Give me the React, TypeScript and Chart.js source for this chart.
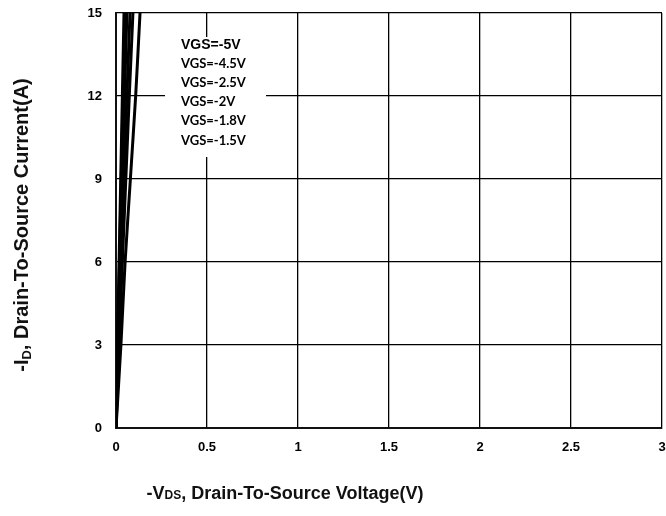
import React, { useEffect, useRef } from "react";
import { Chart, registerables } from "chart.js";

Chart.register(...registerables);

// Drain current levels (A)
const currents = [0, 3, 6, 9, 12, 15];
// -VDS (V) for each gate voltage at the current levels above
const vdsVgs5 = [0, 0.008, 0.017, 0.026, 0.035, 0.044];
const vdsVgs45 = [0, 0.009, 0.019, 0.029, 0.039, 0.05];
const vdsVgs25 = [0, 0.011, 0.023, 0.035, 0.047, 0.06];
const vdsVgs2 = [0, 0.014, 0.029, 0.044, 0.06, 0.077];
const vdsVgs18 = [0, 0.017, 0.035, 0.054, 0.073, 0.093];
const vdsVgs15 = [0, 0.027, 0.05, 0.079, 0.108, 0.132];

const seriesLabels = ["VGS=-5V", "VGS=-4.5V", "VGS=-2.5V", "VGS=-2V", "VGS=-1.8V", "VGS=-1.5V"];
const seriesValues = [vdsVgs5, vdsVgs45, vdsVgs25, vdsVgs2, vdsVgs18, vdsVgs15];

const xTicks = [0, 0.5, 1, 1.5, 2, 2.5, 3];
const yTicks = [0, 3, 6, 9, 12, 15];

const legendPlugin = {
  id: "boxLegend",
  afterDatasetsDraw(chart: any) {
    const { ctx, chartArea } = chart;
    const bx = chartArea.left + 49;
    const by = chartArea.top + 24;
    ctx.save();
    ctx.fillStyle = "#fff";
    ctx.fillRect(bx, by, 101, 120);
    ctx.fillStyle = "#000";
    ctx.textBaseline = "middle";
    ctx.textAlign = "left";
    const offs = [8, 27, 46, 65, 84, 104];
    chart.data.datasets.forEach((ds: any, i: number) => {
      ctx.font = i === 0 ? "bold 14px 'Liberation Sans', Arial, sans-serif" : "bold 13px Lato, sans-serif";
      ctx.fillText(ds.label, bx + 16, by + offs[i]);
    });
    ctx.restore();
  },
};

function drawMixed(ctx: any, parts: { t: string; size: number; dy: number }[], cx: number, cy: number) {
  let total = 0;
  for (const p of parts) {
    ctx.font = `bold ${p.size}px 'Liberation Sans', Arial, sans-serif`;
    total += ctx.measureText(p.t).width;
  }
  let x = cx - total / 2;
  for (const p of parts) {
    ctx.font = `bold ${p.size}px 'Liberation Sans', Arial, sans-serif`;
    ctx.fillText(p.t, x, cy + p.dy);
    x += ctx.measureText(p.t).width;
  }
}

const titlePlugin = {
  id: "axisTitles",
  afterDraw(chart: any) {
    const { ctx } = chart;
    ctx.save();
    ctx.fillStyle = "#111";
    ctx.textBaseline = "alphabetic";
    ctx.textAlign = "left";
    drawMixed(
      ctx,
      [
        { t: "-V", size: 18, dy: 0 },
        { t: "DS", size: 12, dy: 0 },
        { t: ", Drain-To-Source Voltage(V)", size: 18, dy: 0 },
      ],
      285,
      499
    );
    ctx.translate(28, 225);
    ctx.rotate(-Math.PI / 2);
    drawMixed(
      ctx,
      [
        { t: "-I", size: 20, dy: 0 },
        { t: "D", size: 13, dy: 3 },
        { t: ", Drain-To-Source Current(A)", size: 20, dy: 0 },
      ],
      0,
      0
    );
    ctx.restore();
  },
};

const zeroPad = (s: any) => {
  s.paddingLeft = 0;
  s.paddingRight = 0;
  s.paddingTop = 0;
  s.paddingBottom = 0;
};

export default function App() {
  const ref = useRef<HTMLCanvasElement | null>(null);
  useEffect(() => {
    if (!ref.current) return;
    const chart = new Chart(ref.current, {
      type: "line",
      data: {
        datasets: seriesLabels.map((label, i) => ({
          label,
          data: seriesValues[i].map((v, j) => ({ x: v, y: currents[j] })),
          borderColor: "#000",
          backgroundColor: "#000",
          borderWidth: 3,
          pointRadius: 0,
          tension: 0.2,
          borderCapStyle: "round" as const,
        })),
      },
      options: {
        responsive: false,
        animation: false,
        layout: { padding: { top: 13, right: 4, left: 0, bottom: 0 } },
        plugins: { legend: { display: false }, tooltip: { enabled: false } },
        scales: {
          x: {
            type: "linear",
            min: 0,
            max: 3,
            afterBuildTicks: (s: any) => {
              s.ticks = xTicks.map((v) => ({ value: v }));
            },
            afterFit: (s: any) => {
              s.height = 88;
              zeroPad(s);
            },
            ticks: {
              padding: 12,
              color: "#000",
              font: { family: "'Liberation Sans', Arial, sans-serif", weight: "bold", size: 13 },
              callback: (v: any) => String(v),
            },
            grid: { color: "#000", lineWidth: 1.3, drawTicks: false },
            border: { display: true, color: "#111", width: 2 },
          },
          y: {
            type: "linear",
            min: 0,
            max: 15,
            afterBuildTicks: (s: any) => {
              s.ticks = yTicks.map((v) => ({ value: v }));
            },
            afterFit: (s: any) => {
              s.width = 116;
              zeroPad(s);
            },
            ticks: {
              padding: 14,
              color: "#000",
              font: { family: "'Liberation Sans', Arial, sans-serif", weight: "bold", size: 13 },
              callback: (v: any) => String(v),
            },
            grid: { color: "#000", lineWidth: 1.3, drawTicks: false },
            border: { display: true, color: "#111", width: 2 },
          },
        },
      },
      plugins: [legendPlugin, titlePlugin],
    } as any);
    return () => chart.destroy();
  }, []);
  return (
    <div style={{ position: "fixed", left: 0, top: 0, width: 666, height: 516, background: "#fff" }}>
      <canvas ref={ref} width={666} height={516} style={{ display: "block" }} />
    </div>
  );
}
